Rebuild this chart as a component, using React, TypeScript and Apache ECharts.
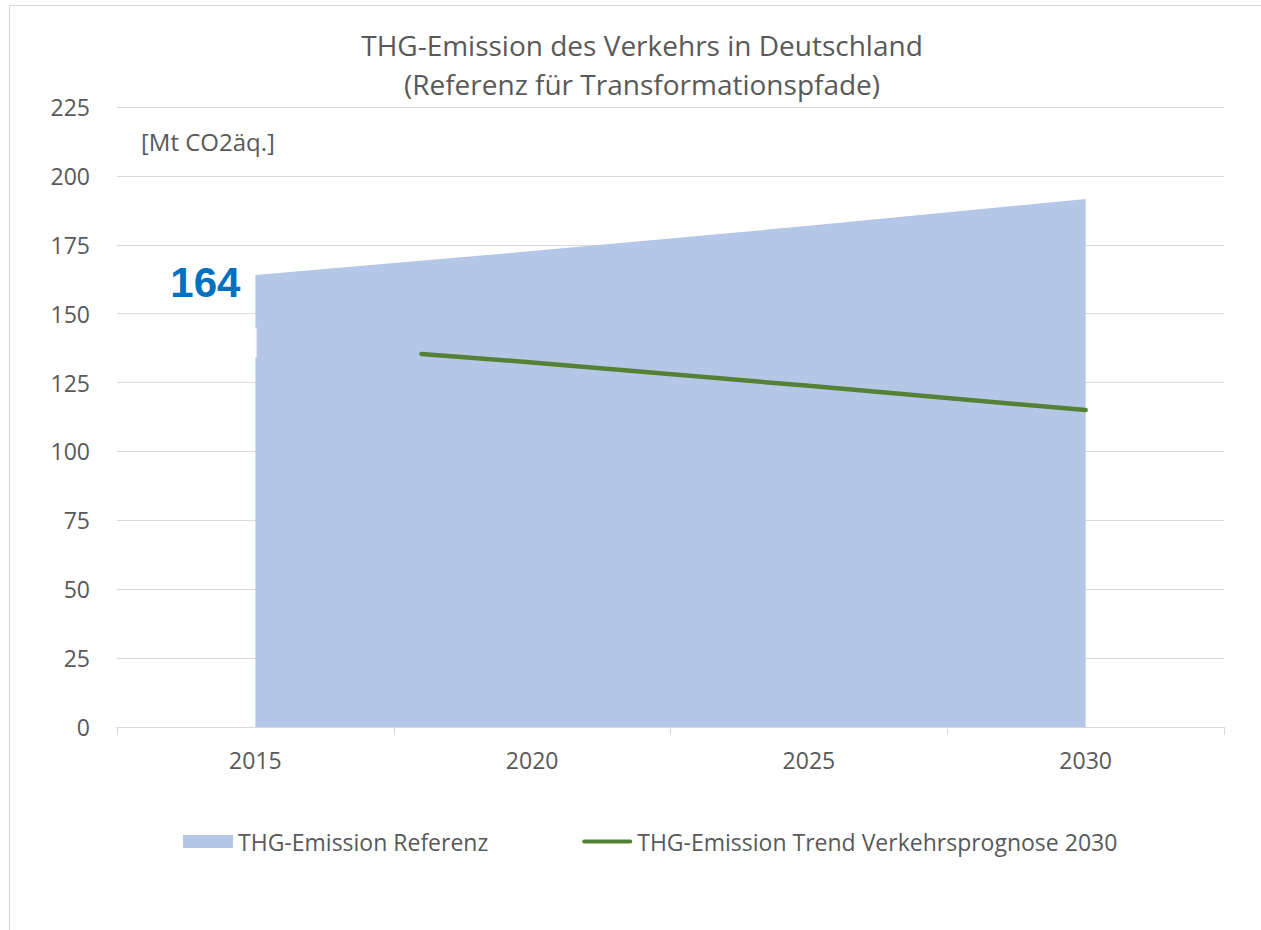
import React, { useEffect, useRef } from "react";
import * as echarts from "echarts";

const categories = ["2015", "2020", "2025", "2030"];
const referenzYears = [2015, 2020, 2025, 2030];
const referenzValues = [164, 172.7, 181.9, 191.6];
const trendYears = [2018, 2020, 2025, 2030];
const trendValues = [135.4, 132.3, 123.8, 115.0];
const yTicks = { min: 0, max: 225, interval: 25 };
const titleLines = ["THG-Emission des Verkehrs in Deutschland", "(Referenz für Transformationspfade)"];
const unitLabel = "[Mt CO2äq.]";
const seriesNames = ["THG-Emission Referenz", "THG-Emission Trend Verkehrsprognose 2030"];
const highlightValue = 164;

const FONT = "'Open Sans', sans-serif";
const GREY = "#595959";
const GRID = "#D9D9D9";
const LINE_ICON = "path://M2,0 L48,0 A2,2 0 0 1 48,4 L2,4 A2,2 0 0 1 2,0 Z";

export default function App() {
  const ref = useRef<HTMLDivElement>(null);
  useEffect(() => {
    if (!ref.current) return;
    const chart = echarts.init(ref.current, undefined, { renderer: "svg" });
    chart.setOption({
      animation: false,
      backgroundColor: "#ffffff",
      title: {
        text: titleLines.join("\n"),
        left: 637,
        top: 20,
        textAlign: "center",
        textStyle: { fontFamily: FONT, fontSize: 28, fontWeight: "normal", color: GREY, lineHeight: 39 },
      },
      grid: { left: 117, right: 37, top: 107, bottom: 203 },
      legend: {
        left: 183,
        top: 830,
        padding: 0,
        itemWidth: 50,
        itemHeight: 13,
        itemGap: 94,
        symbolKeepAspect: true,
        textStyle: { fontFamily: FONT, fontSize: 23, color: GREY },
        data: [
          { name: seriesNames[0], icon: "rect", itemStyle: { color: "#B4C7E7" } },
          { name: seriesNames[1], icon: LINE_ICON, itemStyle: { color: "#548235" } },
        ],
      },
      xAxis: [
        {
          type: "category",
          data: categories,
          boundaryGap: true,
          axisLine: { lineStyle: { color: GRID, width: 1 } },
          axisTick: { show: true, length: 8, lineStyle: { color: GRID } },
          axisLabel: { fontFamily: FONT, fontSize: 23, color: GREY, margin: 21 },
          splitLine: { show: false },
        },
        {
          type: "value",
          min: 2012.5,
          max: 2032.5,
          show: false,
        },
      ],
      yAxis: {
        type: "value",
        min: yTicks.min,
        max: yTicks.max,
        interval: yTicks.interval,
        axisLine: { show: false },
        axisTick: { show: false },
        axisLabel: { fontFamily: FONT, fontSize: 23, color: GREY, margin: 27 },
        splitLine: { lineStyle: { color: GRID, width: 1 } },
      },
      series: [
        {
          name: seriesNames[0],
          type: "line",
          xAxisIndex: 1,
          data: referenzYears.map((y, i) => [y, referenzValues[i]]),
          symbol: "none",
          lineStyle: { width: 0, color: "#B4C7E7" },
          itemStyle: { color: "#B4C7E7" },
          areaStyle: { color: "#B4C7E7", opacity: 1 },
          z: 1,
        },
        {
          name: seriesNames[1],
          type: "line",
          xAxisIndex: 1,
          data: trendYears.map((y, i) => [y, trendValues[i]]),
          symbol: "none",
          lineStyle: { width: 4.5, color: "#548235", cap: "round" },
          itemStyle: { color: "#548235" },
          z: 3,
        },
      ],
    });
    const p = chart.convertToPixel({ xAxisIndex: 1, yAxisIndex: 0 }, [referenzYears[0], highlightValue]) as number[];
    const g1 = chart.convertToPixel({ xAxisIndex: 1, yAxisIndex: 0 }, [referenzYears[0], 145]) as number[];
    const g2 = chart.convertToPixel({ xAxisIndex: 1, yAxisIndex: 0 }, [referenzYears[0], 134]) as number[];
    chart.setOption({
      graphic: [
        {
          type: "rect",
          shape: { x: 9.5, y: 5.5, width: 1400, height: 1000 },
          style: { fill: "none", stroke: GRID, lineWidth: 1 },
          silent: true,
          z: -1,
        },
        {
          type: "text",
          x: 141,
          y: 141,
          style: { text: unitLabel, fontFamily: FONT, fontSize: 24, fill: GREY, textAlign: "left", textVerticalAlign: "middle" },
        },
        {
          type: "text",
          x: p[0] - 15,
          y: p[1] + 7,
          style: {
            text: String(highlightValue),
            fontFamily: "'Liberation Sans', Arial, sans-serif",
            fontWeight: "bold",
            fontSize: 42,
            fill: "#0070C0",
            textAlign: "right",
            textVerticalAlign: "middle",
          },
          z: 10,
        },
        {
          type: "line",
          shape: { x1: g1[0] + 0.5, y1: g1[1], x2: g2[0] + 0.5, y2: g2[1] },
          style: { stroke: "#ffffff", lineWidth: 1.5 },
          z: 10,
        },
      ],
    });
    return () => chart.dispose();
  }, []);
  return <div ref={ref} style={{ position: "fixed", left: 0, top: 0, width: 1261, height: 930 }} />;
}
